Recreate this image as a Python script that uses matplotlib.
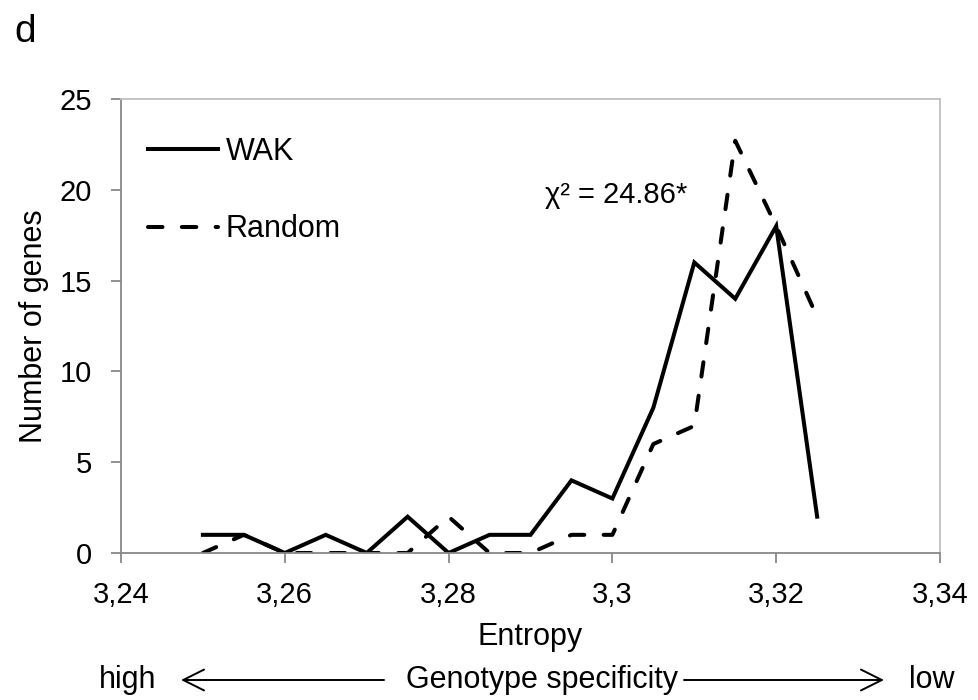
import numpy as np
import matplotlib.pyplot as plt
from matplotlib.patches import FancyArrowPatch
from matplotlib.ticker import FuncFormatter

plt.rcParams['font.family'] = ['Liberation Sans', 'DejaVu Sans']

entropy = [3.25, 3.255, 3.26, 3.265, 3.27, 3.275, 3.28, 3.285,
           3.29, 3.295, 3.3, 3.305, 3.31, 3.315, 3.32, 3.325]
wak = [1, 1, 0, 1, 0, 2, 0, 1, 1, 4, 3, 8, 16, 14, 18, 2]
random_genes = [0, 1, 0, 0, 0, 0, 2, 0, 0, 1, 1, 6, 7, 22.7, 18, 13]
x_ticks = [3.24, 3.26, 3.28, 3.30, 3.32, 3.34]
y_ticks = [0, 5, 10, 15, 20, 25]


def comma_fmt(v, pos):
    s = ('%.2f' % v).rstrip('0').rstrip('.')
    return s.replace('.', ',')


W, H = 979, 700
fig = plt.figure(figsize=(W / 100, H / 100), dpi=100)
ax = fig.add_axes([121 / W, 1 - 553 / H, (940 - 121) / W, (553 - 99) / H])

lw = 2.9
ax.plot(entropy, wak, color='black', linewidth=lw, label='WAK',
        solid_joinstyle='miter')
ax.plot(entropy, random_genes, color='black', linewidth=lw,
        dashes=(3.6, 4.8), dash_capstyle='round', label='Random')

ax.set_xlim(3.24, 3.34)
ax.set_ylim(0, 25)
ax.set_xticks(x_ticks)
ax.set_yticks(y_ticks)
ax.xaxis.set_major_formatter(FuncFormatter(comma_fmt))

for side in ['left', 'bottom']:
    ax.spines[side].set_color('#888888')
    ax.spines[side].set_linewidth(1.3)
for side in ['top', 'right']:
    ax.spines[side].set_color('#c0c0c0')
    ax.spines[side].set_linewidth(1.3)
ax.tick_params(axis='both', colors='#888888', labelcolor='black',
               labelsize=21, length=7, width=1.3, direction='out')
ax.tick_params(axis='x', pad=13)
ax.tick_params(axis='y', pad=14)

ax.set_xlabel('Entropy', fontsize=22)
ax.xaxis.set_label_coords(0.5, (553 - 622) / 454)
ax.set_ylabel('Number of genes', fontsize=22)
ax.yaxis.set_label_coords((49 - 121) / 819, 0.5)

leg = ax.legend(loc='upper left', frameon=False, fontsize=22,
                handlelength=2.3, handletextpad=0.25, labelspacing=1.55,
                bbox_to_anchor=(27 / 819, 1 - 38 / 454), borderaxespad=0,
                borderpad=0)

ax.text(3.3004, 19.7, 'χ² = 24.86*', fontsize=21, ha='center', va='center')

fig.text(14 / W, 1 - 42 / H, 'd', fontsize=28, ha='left', va='baseline')

# genotype specificity axis below
yb = 1 - 680 / H
fig.text(128 / W, yb, 'high', fontsize=22, ha='center', va='center')
fig.text(932 / W, yb, 'low', fontsize=22, ha='center', va='center')
fig.text(542 / W, yb, 'Genotype specificity', fontsize=22, ha='center', va='center')
for start, end in [((384 / W, yb), (181 / W, yb)), ((684 / W, yb), (884 / W, yb))]:
    fig.patches.append(FancyArrowPatch(
        start, end, transform=fig.transFigure,
        arrowstyle='->,head_length=0.5,head_width=0.25', mutation_scale=30,
        color='black', linewidth=1.4, shrinkA=0, shrinkB=0))

plt.savefig('out.png', dpi=100)
